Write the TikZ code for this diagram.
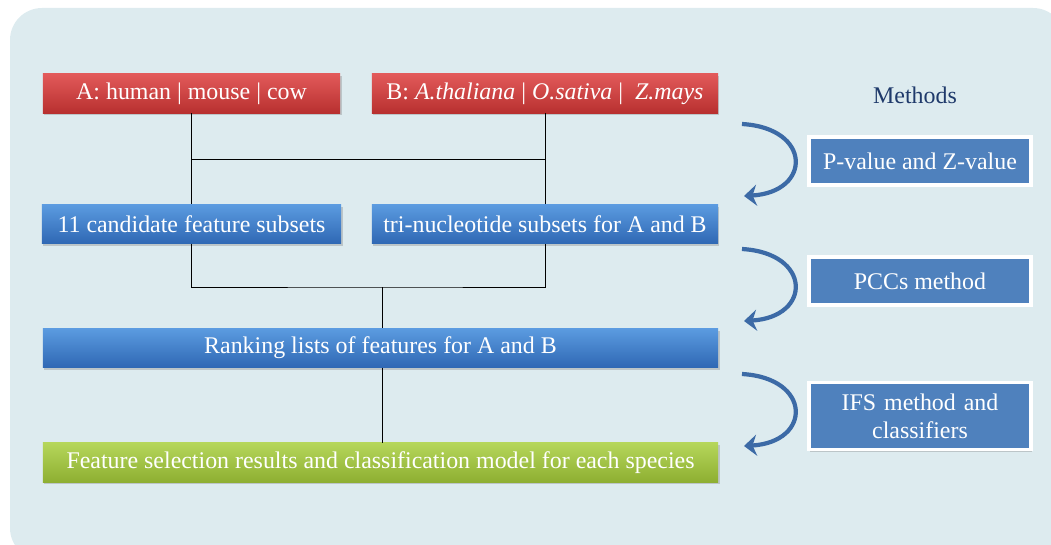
\documentclass[tikz,border=0pt]{standalone}
\usepackage{fontspec}
\setmainfont{Liberation Serif}
\usetikzlibrary{arrows.meta,shadows,positioning}
\definecolor{bgpanel}{HTML}{DDEBEF}
\definecolor{redtop}{HTML}{E25A5A}
\definecolor{redbot}{HTML}{B8302F}
\definecolor{bluetop}{HTML}{5B9BE0}
\definecolor{bluebot}{HTML}{2F68B4}
\definecolor{greentop}{HTML}{B5D65A}
\definecolor{greenbot}{HTML}{8EAF32}
\definecolor{methfill}{HTML}{4F81BD}
\definecolor{methtext}{HTML}{1F3A6B}
\definecolor{curlblue}{HTML}{3C6AA6}
\tikzset{box/.style={rectangle, text=white, text centered, font=\fontsize{17}{20}\selectfont,
                     drop shadow={shadow xshift=1pt, shadow yshift=-1.5pt, opacity=0.35}}}
\tikzset{line/.style={draw, line width=0.7pt, black}}
\begin{document}
\begin{tikzpicture}[x=0.025cm, y=-0.025cm,
                    redbox/.style={box, top color=redtop, bottom color=redbot, minimum height=0.98cm},
                    bluebox/.style={box, top color=bluetop, bottom color=bluebot, minimum height=0.97cm},
                    greenbox/.style={box, top color=greentop, bottom color=greenbot, minimum height=0.98cm},
                    methbox/.style={box, fill=methfill, draw=white, line width=2.2pt, minimum width=5.55cm, align=center},
                    curl/.style={draw=curlblue, line width=3pt, -{Stealth[length=9pt, width=15pt]}}]
    \useasboundingbox (0,0) rectangle (1051,545);
    \fill[bgpanel, rounded corners=0.8cm] (10,8) rectangle (1065,560);

    % Nodes
    \node [redbox, minimum width=7.43cm]   (speciesA) at (191.5,93.5) {A: human | mouse | cow};
    \node [redbox, minimum width=8.65cm]   (speciesB) at (545,93.5)   {B: \textit{A.thaliana} | \textit{O.sativa} |~ \textit{Z.mays}};
    \node [bluebox, minimum width=7.48cm]  (candidate) at (191.5,224) {11 candidate feature subsets};
    \node [bluebox, minimum width=8.65cm]  (trinuc) at (545,224)      {tri-nucleotide subsets for A and B};
    \node [bluebox, minimum width=16.88cm] (ranking) at (380.5,348)   {Ranking lists of features for A and B};
    \node [greenbox, minimum width=16.88cm] (result) at (380.5,462.5) {Feature selection results and classification model for each species};

    \node [text=methtext, font=\fontsize{17}{20}\selectfont] (methods) at (915,95) {Methods};
    \node [methbox, minimum height=1.2cm]  (pvalue) at (920,161) {P-value and Z-value};
    \node [methbox, minimum height=1.2cm]  (pccs) at (920,281)   {PCCs method};
    \node [methbox, minimum height=1.68cm, text width=5cm] (ifs) at (920,416) {IFS method and\\classifiers};

    \coordinate (joinAB) at (191.5,159);
    \coordinate (joinBA) at (545,159);
    \coordinate (mergeM) at (382,287);

    % Paths
    \path [line] (speciesA) -- (candidate);
    \path [line] (speciesB) -- (trinuc);
    \path [line] (joinAB) -- (joinBA);
    \path [line] (candidate.south) |- (mergeM) -| (trinuc.south);
    \path [line] (mergeM) -- (mergeM |- ranking.north);
    \path [line] (ranking.south -| mergeM) -- (result.north -| mergeM);

    % Curved arrows
    \coordinate (c1s) at (742,124);  \coordinate (c1e) at (744,196);
    \coordinate (c2s) at (742,249);  \coordinate (c2e) at (744,321);
    \coordinate (c3s) at (742,374);  \coordinate (c3e) at (744,446);
    \path [curl] (c1s) .. controls (812,128) and (812,192) .. (c1e);
    \path [curl] (c2s) .. controls (812,253) and (812,317) .. (c2e);
    \path [curl] (c3s) .. controls (812,378) and (812,442) .. (c3e);
\end{tikzpicture}
\end{document}
